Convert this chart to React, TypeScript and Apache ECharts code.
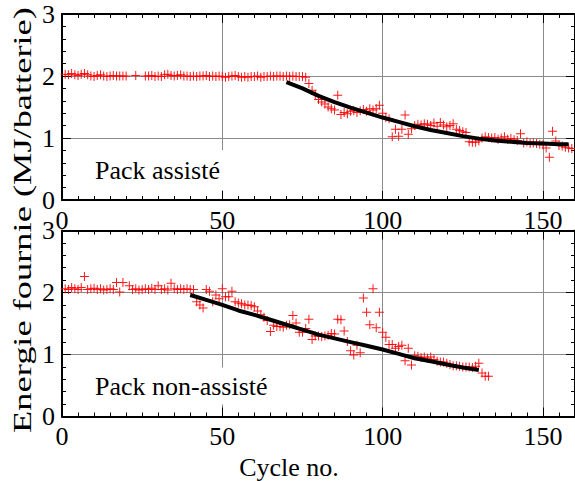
import React, { useEffect, useRef } from "react";
import * as echarts from "echarts";

// ---- Data ----
const topCycles = [1,2,3,4,5,6,7,8,9,10,11,12,13,14,15,16,17,18,19,20,23,26,27,28,29,30,31,32,33,34,35,36,37,38,39,40,41,42,43,44,45,46,47,48,49,50,51,52,53,54,55,56,57,58,59,60,61,62,63,64,65,66,67,68,69,70,71,72,73,74,75,76,77,78,79,80,81,82,83,84,85,86,87,88,89,90,91,92,93,94,95,96,97,98,99,100,101,102,103,104,105,106,107,108,109,110,111,112,113,114,115,116,117,118,119,120,121,122,123,124,125,126,127,128,129,130,131,132,133,134,135,136,137,138,139,140,141,142,143,144,145,146,147,148,149,150,151,152,153,154,155,156,157,158,159];
const topEnergy = [2.03,2.02,2.04,2.02,2.01,2.03,2.04,2.02,2.00,1.99,2.01,2.02,2.00,1.99,2.00,2.01,2.00,2.00,2.00,2.00,2.01,2.00,2.00,2.01,1.99,2.00,1.99,2.02,2.03,2.01,2.00,2.01,2.02,2.00,2.00,1.99,2.00,1.99,2.00,2.00,2.01,1.99,2.00,1.99,2.00,1.99,1.98,1.99,2.00,2.01,1.99,1.98,1.99,1.98,1.99,1.99,2.00,1.98,1.99,1.99,2.00,1.99,2.00,2.00,1.99,2.00,1.99,2.00,1.99,1.99,1.99,1.98,1.88,1.77,1.70,1.62,1.58,1.55,1.50,1.47,1.45,1.69,1.38,1.41,1.39,1.43,1.44,1.41,1.44,1.46,1.43,1.47,1.45,1.47,1.53,1.40,1.33,1.31,1.02,1.14,1.03,1.14,1.37,1.06,1.15,1.20,1.22,1.21,1.23,1.22,1.20,1.24,1.19,1.25,1.21,1.18,1.20,1.23,1.14,1.12,1.10,1.09,0.94,0.93,0.93,0.95,1.00,1.02,1.01,1.00,1.01,0.98,1.00,1.02,0.98,0.99,0.97,0.96,1.07,0.92,0.94,0.91,0.92,0.91,0.90,0.89,0.84,0.69,1.11,0.95,0.88,0.87,0.85,0.84,0.83];
const topTrendCycles = [70,75,80,85,90,95,100,105,110,115,120,125,130,135,140,145,150,155,158];
const topTrendEnergy = [1.90,1.80,1.68,1.58,1.49,1.41,1.33,1.26,1.19,1.13,1.08,1.03,0.99,0.96,0.94,0.92,0.91,0.90,0.90];

const botCycles = [1,2,3,4,5,6,7,8,9,10,11,12,13,14,15,16,17,18,19,21,22,23,24,25,26,27,28,29,30,31,32,33,34,35,36,37,38,39,40,41,42,43,44,45,46,47,48,49,50,51,52,53,54,55,56,57,58,59,60,61,62,63,64,65,66,67,68,69,70,71,72,73,74,75,76,77,78,79,80,81,82,83,84,85,86,87,88,89,90,91,92,93,94,95,96,97,98,99,100,101,102,103,104,105,106,107,108,109,110,111,112,113,114,115,116,117,118,119,120,121,122,123,124,125,126,127,128,129,130,131,132,133];
const botEnergy = [2.06,2.05,2.08,2.06,2.05,2.08,2.26,2.05,2.06,2.07,2.05,2.06,2.04,2.05,2.06,2.05,2.16,2.01,2.16,2.11,2.05,2.06,2.04,2.05,2.06,2.05,2.07,2.05,2.11,2.05,2.06,2.04,2.15,2.06,2.05,2.06,2.05,2.06,2.05,2.05,1.85,1.80,1.75,2.05,2.02,1.85,1.96,1.90,2.06,1.93,1.93,2.02,1.85,1.83,1.82,1.80,1.80,1.79,1.77,1.70,1.64,1.60,1.55,1.37,1.47,1.45,1.45,1.44,1.47,1.48,1.63,1.51,1.36,1.36,1.42,1.57,1.24,1.30,1.30,1.29,1.30,1.31,1.34,1.33,1.57,1.56,1.38,1.21,1.06,0.99,1.15,1.03,1.91,1.68,1.48,2.06,1.43,1.68,1.36,1.28,1.16,1.16,1.10,1.13,1.15,0.90,1.10,0.83,0.98,0.97,0.95,0.96,0.94,0.96,0.92,0.89,0.88,0.88,0.86,0.84,0.82,0.82,0.81,0.80,0.80,0.80,0.79,0.81,0.86,0.70,0.65,0.65];
const botTrendCycles = [40,45,50,55,60,65,70,75,80,85,90,95,100,105,110,115,120,125,130];
const botTrendEnergy = [1.96,1.88,1.80,1.71,1.64,1.56,1.48,1.40,1.32,1.26,1.20,1.14,1.08,1.01,0.94,0.89,0.84,0.79,0.75];

const xTickValues = [0, 50, 100, 150];
const yTickValues = [0, 1, 2, 3];
const labelTop = "Pack assisté";
const labelBottom = "Pack non-assisté";
const yTitle = "Energie fournie (MJ/batterie)";
const xTitle = "Cycle no.";

const FONT = "Liberation Serif";
const PLUS = "path://M4,0H5V4H9V5H5V9H4V5H0V4H4Z";

const pairs = (xs: number[], ys: number[]) => xs.map((x, i) => [x, ys[i]]);

function xMajor(gridIndex: number, position: string, showLabel: boolean) {
  return {
    type: "value", gridIndex, position, min: 0, max: 160, interval: xTickValues[1] - xTickValues[0],
    axisLine: { show: true, onZero: false, lineStyle: { color: "#000", width: 2 } },
    axisTick: { show: true, inside: true, length: 9, lineStyle: { color: "#000", width: 1 } },
    axisLabel: { show: showLabel, showMaxLabel: false, margin: 7, color: "#000", fontFamily: FONT, fontSize: 26 },
    splitLine: { show: position === "bottom", lineStyle: { color: "#8a8a8a", width: 1 } },
  };
}
function xMinor(gridIndex: number, position: string) {
  return {
    type: "value", gridIndex, position, min: 0, max: 160, interval: 5,
    axisLine: { show: false, onZero: false },
    axisTick: { show: true, inside: true, length: 4, lineStyle: { color: "#000", width: 1 } },
    axisLabel: { show: false },
    splitLine: { show: false },
  };
}
function yAx(gridIndex: number, position: string, showLabel: boolean) {
  return {
    type: "value", gridIndex, position, min: yTickValues[0], max: yTickValues[yTickValues.length - 1], interval: 1,
    axisLine: { show: true, onZero: false, lineStyle: { color: "#000", width: 2 } },
    axisTick: { show: true, inside: true, length: 9, lineStyle: { color: "#000", width: 1 } },
    minorTick: { show: true, splitNumber: 5, length: 4, lineStyle: { color: "#000", width: 1 } },
    axisLabel: { show: showLabel, margin: 7, color: "#000", fontFamily: FONT, fontSize: 26 },
    splitLine: { show: position === "left", lineStyle: { color: "#8a8a8a", width: 1 } },
  };
}

export default function App() {
  const ref = useRef<HTMLDivElement>(null);
  useEffect(() => {
    if (!ref.current) return;
    const chart = echarts.init(ref.current, undefined, { renderer: "svg" });
    const scatterStyle = { color: "#ff0000", opacity: 0.9 };
    chart.setOption({
      animation: false,
      backgroundColor: "#fff",
      grid: [
        { left: 62, top: 14, width: 513, height: 186, containLabel: false },
        { left: 62, top: 230.5, width: 513, height: 186, containLabel: false },
      ],
      xAxis: [
        xMajor(0, "bottom", true), xMinor(0, "bottom"), xMajor(0, "top", false), xMinor(0, "top"),
        xMajor(1, "bottom", true), xMinor(1, "bottom"), xMajor(1, "top", false), xMinor(1, "top"),
      ],
      yAxis: [yAx(0, "left", true), yAx(0, "right", false), yAx(1, "left", true), yAx(1, "right", false)],
      series: [
        { type: "scatter", xAxisIndex: 0, yAxisIndex: 0, symbol: PLUS, symbolSize: 9, itemStyle: scatterStyle, data: pairs(topCycles, topEnergy), z: 3 },
        { type: "line", xAxisIndex: 0, yAxisIndex: 0, showSymbol: false, symbol: "none", lineStyle: { color: "#000", width: 4 }, data: pairs(topTrendCycles, topTrendEnergy), z: 4 },
        { type: "scatter", xAxisIndex: 4, yAxisIndex: 2, symbol: PLUS, symbolSize: 9, itemStyle: scatterStyle, data: pairs(botCycles, botEnergy), z: 3 },
        { type: "line", xAxisIndex: 4, yAxisIndex: 2, showSymbol: false, symbol: "none", lineStyle: { color: "#000", width: 4 }, data: pairs(botTrendCycles, botTrendEnergy), z: 4 },
      ],
      graphic: [
        {
          type: "text", x: 91, y: 170, z: 1,
          style: { text: labelTop, fontFamily: FONT, fontSize: 26, fill: "#000", align: "left", verticalAlign: "middle", backgroundColor: "#fff", padding: [7, 4, 7, 4] },
        },
        {
          type: "text", x: 91, y: 386, z: 1,
          style: { text: labelBottom, fontFamily: FONT, fontSize: 26, fill: "#000", align: "left", verticalAlign: "middle", backgroundColor: "#fff", padding: [7, 4, 4, 4] },
        },
        {
          type: "text", x: 22, y: 220, rotation: Math.PI / 2, scaleX: 1.4, z: 5,
          style: { text: yTitle, fontFamily: FONT, fontSize: 26, fill: "#000", align: "center", verticalAlign: "middle" },
        },
        {
          type: "text", x: 289, y: 467, z: 5,
          style: { text: xTitle, fontFamily: FONT, fontSize: 26, fill: "#000", align: "center", verticalAlign: "middle" },
        },
      ],
    });
    return () => chart.dispose();
  }, []);
  return <div ref={ref} style={{ position: "absolute", left: 0, top: 0, width: 575, height: 481 }} />;
}
